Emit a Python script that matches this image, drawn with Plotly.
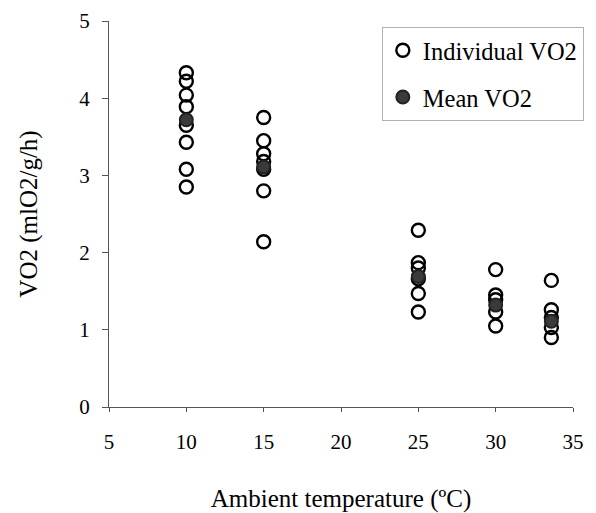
import plotly.graph_objects as go

# Ambient temperature (°C) for each group
temps = [10, 15, 25, 30, 33.6]

# Individual VO2 values per temperature group (mlO2/g/h)
ind_10 = [4.33, 4.22, 4.04, 3.89, 3.65, 3.43, 3.08, 2.85]
ind_15 = [3.75, 3.45, 3.28, 3.18, 3.08, 2.80, 2.14]
ind_25 = [2.29, 1.87, 1.80, 1.66, 1.47, 1.23]
ind_30 = [1.78, 1.45, 1.39, 1.23, 1.05]
ind_34 = [1.64, 1.26, 1.16, 1.03, 0.90]
individual = [ind_10, ind_15, ind_25, ind_30, ind_34]

# Mean VO2 per group
mean_vo2 = [3.72, 3.11, 1.69, 1.32, 1.11]

x_ind = []
y_ind = []
for t, vals in zip(temps, individual):
    x_ind += [t] * len(vals)
    y_ind += vals

FONT = "Liberation Serif, Times New Roman, serif"

fig = go.Figure()
fig.add_trace(go.Scatter(
    x=x_ind, y=y_ind, mode="markers", name="Individual VO2",
    legendgroup="a",
    marker=dict(symbol="circle-open", size=13, color="black",
                line=dict(width=2.4, color="black")),
))
fig.add_trace(go.Scatter(
    x=temps, y=mean_vo2, mode="markers", name="Mean VO2",
    legendgroup="b",
    marker=dict(symbol="circle", size=13, color="#3a3a3a",
                line=dict(width=2, color="#222222")),
))

fig.update_layout(
    width=596, height=513,
    margin=dict(l=109, r=19, t=21, b=106),
    paper_bgcolor="white", plot_bgcolor="white",
    font=dict(family=FONT, color="black", size=21),
    showlegend=True,
    legend=dict(
        x=0.588, y=0.985, xanchor="left", yanchor="top",
        bordercolor="#b0b0b0", borderwidth=1,
        font=dict(family=FONT, size=24.5, color="black"),
        traceorder="grouped", tracegroupgap=12,
        bgcolor="white",
    ),
    xaxis=dict(
        range=[5, 35], tickvals=[5, 10, 15, 20, 25, 30, 35],
        showgrid=False, zeroline=False, automargin=False,
        showline=True, linecolor="#555555", linewidth=1,
        ticks="outside", ticklen=4, tickcolor="#555555",
        tickfont=dict(family=FONT, size=21),
        ticklabelstandoff=12,
        title=dict(text="Ambient temperature (ºC)", standoff=36,
                   font=dict(family=FONT, size=25)),
    ),
    yaxis=dict(
        range=[0, 5], tickvals=[0, 1, 2, 3, 4, 5],
        showgrid=False, zeroline=False, automargin=False,
        showline=True, linecolor="#555555", linewidth=1,
        ticks="outside", ticklen=6, tickcolor="#555555",
        tickfont=dict(family=FONT, size=21),
        ticklabelstandoff=8,
        title=dict(text="VO2 (mlO2/g/h)", standoff=34,
                   font=dict(family=FONT, size=25)),
    ),
)

fig.write_html("out.html")
